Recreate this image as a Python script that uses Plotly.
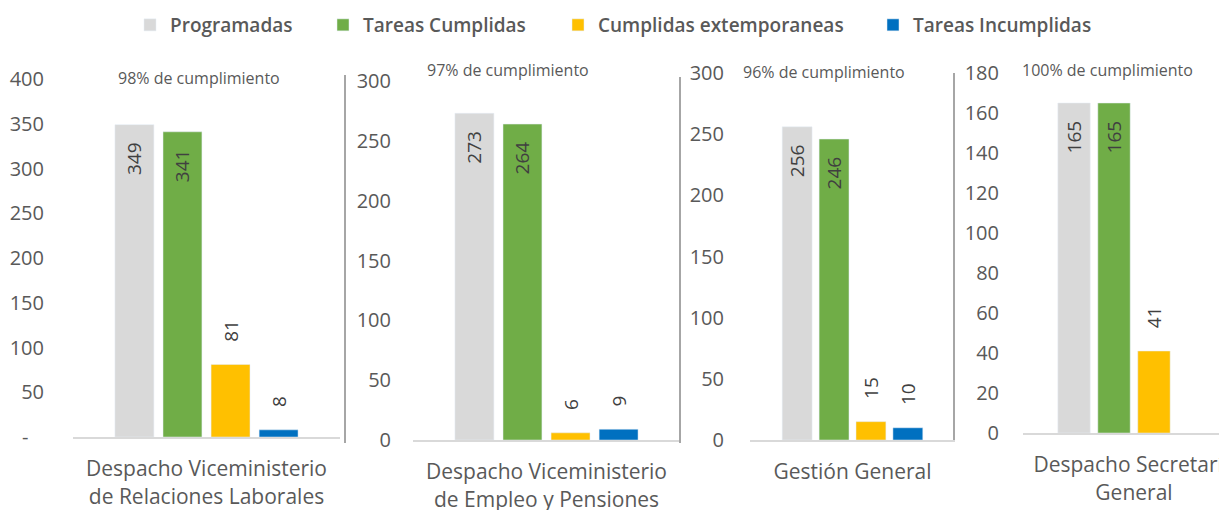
import plotly.graph_objects as go

# the page body adds an 8px margin, so the figure is 8px smaller than the window
OFF = 8
W, H = 1227 - OFF, 510 - OFF

categorias = ["Despacho Viceministerio<br>de Relaciones Laborales",
              "Despacho Viceministerio<br>de Empleo y Pensiones",
              "Gestión General",
              "Despacho Secretaría<br>General"]
series = ["Programadas", "Tareas Cumplidas", "Cumplidas extemporaneas", "Tareas Incumplidas"]
programadas = [349, 273, 256, 165]
cumplidas = [341, 264, 246, 165]
extemporaneas = [81, 6, 15, 41]
incumplidas = [8, 9, 10, None]
cumplimiento = ["98% de cumplimiento", "97% de cumplimiento",
                "96% de cumplimiento", "100% de cumplimiento"]
y_max = [400, 300, 300, 180]
y_step = [50, 50, 50, 20]

valores = [programadas, cumplidas, extemporaneas, incumplidas]
colores = ["#d9d9d9", "#70ad47", "#ffc000", "#0070c0"]


def px(x):
    return (x - OFF) / W


def py(y):
    return 1 - (y - OFF) / H


# panel geometry in window pixels: x left, x right, y of zero, y of max
paneles = [
    (73, 340, 437, 79),
    (413, 680, 440, 81),
    (750, 955, 440, 73),
    (1023, 1227, 433, 73),
]
xrangos = [[-0.5, 0.5], [-0.5, 0.5], [-0.5, 0.5], [-0.5, 0.419]]
ystandoff = [28, 21, 25, 23]
notas_xy = [(199, 78), (508, 70), (824, 72), (1107, 70)]
leyenda_x = [172, 365, 600, 915]

gris = "#595959"
fuente = "Open Sans"
nb = "\u00a0"

fig = go.Figure()

for p in range(4):
    sfx = "" if p == 0 else str(p + 1)
    for s in range(4):
        v = valores[s][p]
        dentro = v is not None and v > 100
        fig.add_trace(go.Bar(
            x=[categorias[p]], y=[v], name=series[s],
            marker_color=colores[s],
            xaxis="x" + sfx, yaxis="y" + sfx,
            texttemplate=("%{y}" + nb * 3) if dentro else (nb * 4 + "%{y}"),
            textposition="inside" if dentro else "outside",
            textangle=-90,
            insidetextanchor="end", constraintext="none",
            textfont=dict(family=fuente, size=19, color="#404040"),
            cliponaxis=False,
            showlegend=(p == 0),
            legend="legend" if s == 0 else "legend" + str(s + 1),
            hoverinfo="skip",
        ))

layout = dict(
    width=W, height=H,
    margin=dict(l=0, r=0, t=0, b=0, autoexpand=False),
    paper_bgcolor="white", plot_bgcolor="white",
    barmode="group", bargap=0.28, bargroupgap=0.19,
    font=dict(family=fuente, color=gris),
)

for p in range(4):
    sfx = "" if p == 0 else str(p + 1)
    x0, x1, y0, y1 = paneles[p]
    ticks = list(range(0, y_max[p] + 1, y_step[p]))
    ttext = [str(t) for t in ticks]
    if p == 0:
        ttext[0] = "-" + nb * 3
    layout["xaxis" + sfx] = dict(
        domain=[px(x0), min(px(x1), 1)], anchor="y" + sfx, range=xrangos[p],
        showgrid=False, zeroline=False, showline=True,
        linecolor="#d9d9d9", linewidth=2, ticks="", automargin=False,
        tickfont=dict(family=fuente, size=21, color=gris),
        ticklabelstandoff=12,
    )
    layout["yaxis" + sfx] = dict(
        domain=[py(y0), py(y1)], anchor="x" + sfx,
        range=[0, y_max[p]], tickvals=ticks, ticktext=ttext,
        showgrid=False, zeroline=False, showline=False, ticks="",
        automargin=False,
        tickfont=dict(family=fuente, size=20, color=gris),
        ticklabelstandoff=ystandoff[p],
    )

for s in range(4):
    key = "legend" if s == 0 else "legend" + str(s + 1)
    layout[key] = dict(
        orientation="h", x=px(leyenda_x[s] - 42), y=py(25),
        xanchor="left", yanchor="middle", bgcolor="rgba(0,0,0,0)",
        font=dict(family=fuente, size=19, color=gris, weight=600),
    )

fig.update_layout(**layout)

for p in range(4):
    nx, ny = notas_xy[p]
    fig.add_annotation(
        text=cumplimiento[p], xref="paper", yref="paper",
        x=px(nx), y=py(ny), xanchor="center", yanchor="middle",
        showarrow=False, font=dict(family=fuente, size=16, color=gris),
    )

# separators between the four charts
for sx, sy0, sy1 in [(345, 75, 443), (680, 77, 443), (954, 73, 440)]:
    fig.add_shape(type="line", xref="paper", yref="paper",
                  x0=px(sx), x1=px(sx), y0=py(sy1), y1=py(sy0),
                  line=dict(color="#a6a6a6", width=2))

fig.write_html("out.html")
